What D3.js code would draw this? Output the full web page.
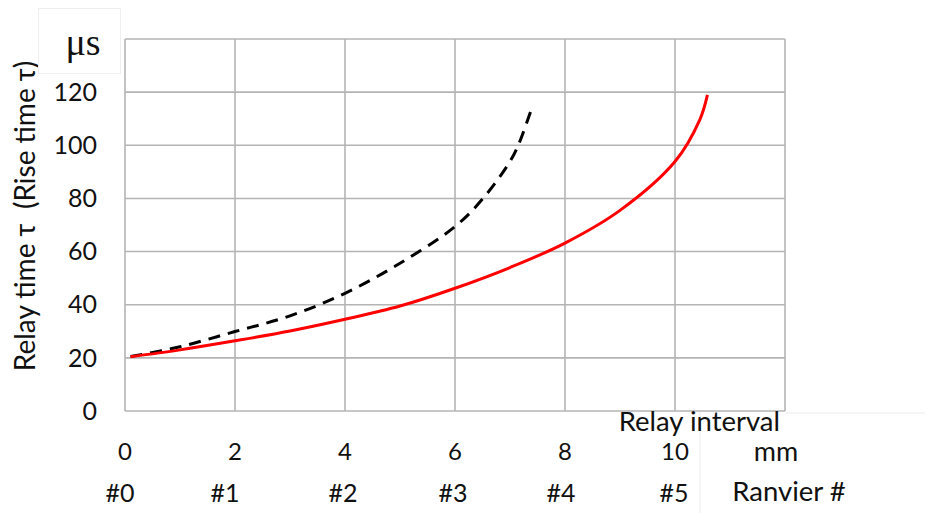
<!DOCTYPE html>
<html>
<head>
<meta charset="utf-8">
<script src="https://cdnjs.cloudflare.com/ajax/libs/d3/7.8.5/d3.min.js"></script>
<style>
  html, body { margin: 0; padding: 0; background: #fff; }
  svg { display: block; }
  .sans { font-family: Lato, "Open Sans", "Liberation Sans", sans-serif; fill: #111; }
  .serif { font-family: "Liberation Serif", "DejaVu Serif", serif; fill: #111; }
</style>
</head>
<body>
<svg id="chart" width="925" height="513"></svg>
<script>
// Relay interval (mm) and rise time (µs) for the two curves
const redX   = [0.1, 1, 2, 3, 4, 5, 6, 7, 8, 9, 10, 10.45, 10.59];
const redY   = [20.4, 23.0, 26.4, 30.1, 34.5, 39.5, 46.2, 54.0, 63.2, 75.5, 93.9, 109.6, 119.0];
const dashX  = [0.1, 1, 2, 3, 4, 5, 6, 6.51, 7.0, 7.15, 7.39];
const dashY  = [20.5, 24.2, 29.9, 35.8, 44.3, 55.6, 69.4, 80.0, 93.9, 100.0, 113.6];

// Axis ticks and labels
const xTicks = [0, 2, 4, 6, 8, 10];
const yTicks = [0, 20, 40, 60, 80, 100, 120];
const ranvierLabels = ["#0", "#1", "#2", "#3", "#4", "#5"];
const ranvierPos = [120, 225, 343, 453, 561, 674];
const xGrid = [0, 2, 4, 6, 8, 10, 12];
const yGrid = [0, 20, 40, 60, 80, 100, 120, 140];

const svg = d3.select("#chart");

const x = d3.scaleLinear().domain([0, 12]).range([125, 785]);
const y = d3.scaleLinear().domain([0, 140]).range([411, 39]);

// Grid
const grid = svg.append("g").attr("stroke", "#b4b4b4").attr("stroke-width", 1.6);
grid.selectAll("line.v").data(xGrid).join("line")
  .attr("class", "v")
  .attr("x1", d => x(d)).attr("x2", d => x(d))
  .attr("y1", y(0)).attr("y2", y(140));
grid.selectAll("line.h").data(yGrid).join("line")
  .attr("class", "h")
  .attr("x1", x(0)).attr("x2", x(12))
  .attr("y1", d => y(d)).attr("y2", d => y(d));

// Faint panel edges near the bottom-right labels
svg.append("line").attr("x1", 700).attr("x2", 700).attr("y1", 412).attr("y2", 513)
  .attr("stroke", "#ececec").attr("stroke-width", 1);
svg.append("line").attr("x1", 785).attr("x2", 925).attr("y1", 413).attr("y2", 413)
  .attr("stroke", "#ececec").attr("stroke-width", 1);

// Curves
const line = d3.line().curve(d3.curveCatmullRom.alpha(0.5))
  .x(d => x(d[0])).y(d => y(d[1]));

svg.append("path")
  .datum(dashX.map((v, i) => [v, dashY[i]]))
  .attr("d", line)
  .attr("fill", "none").attr("stroke", "#000").attr("stroke-width", 3)
  .attr("stroke-dasharray", "12,8");

svg.append("path")
  .datum(redX.map((v, i) => [v, redY[i]]))
  .attr("d", line)
  .attr("fill", "none").attr("stroke", "#ff0000").attr("stroke-width", 3);

// Y tick labels
svg.append("g").selectAll("text").data(yTicks).join("text")
  .attr("class", "sans")
  .attr("x", 97).attr("y", d => y(d))
  .attr("dy", "0.35em").attr("text-anchor", "end")
  .attr("font-size", 25).text(d => d);

// X tick labels
svg.append("g").selectAll("text").data(xTicks).join("text")
  .attr("class", "sans")
  .attr("x", d => x(d)).attr("y", 452)
  .attr("dy", "0.35em").attr("text-anchor", "middle")
  .attr("font-size", 24).text(d => d);

// Ranvier node labels
svg.append("g").selectAll("text").data(ranvierLabels).join("text")
  .attr("class", "sans")
  .attr("x", (d, i) => ranvierPos[i]).attr("y", 493)
  .attr("dy", "0.35em").attr("text-anchor", "middle")
  .attr("font-size", 25).text(d => d);

// Axis titles
svg.append("text").attr("class", "sans").attr("x", 780).attr("y", 431)
  .attr("text-anchor", "end").attr("font-size", 27.5).text("Relay interval");
svg.append("text").attr("class", "sans").attr("x", 776).attr("y", 452).attr("dy", "0.35em")
  .attr("text-anchor", "middle").attr("font-size", 27).text("mm");
svg.append("text").attr("class", "sans").attr("x", 789).attr("y", 491).attr("dy", "0.35em")
  .attr("text-anchor", "middle").attr("font-size", 27.5).text("Ranvier #");

svg.append("text").attr("class", "sans")
  .attr("transform", "translate(25,216) rotate(-90)")
  .attr("dy", "0.35em").attr("text-anchor", "middle")
  .attr("font-size", 28).attr("xml:space", "preserve")
  .style("white-space", "pre")
  .text("Relay time τ  (Rise time τ)");

// Unit box
svg.append("rect").attr("x", 38.5).attr("y", 8.5).attr("width", 82).attr("height", 65)
  .attr("fill", "#fff").attr("stroke", "#eeeeee").attr("stroke-width", 1);
svg.append("text").attr("class", "serif").attr("x", 83).attr("y", 44).attr("dy", "0.3em")
  .attr("text-anchor", "middle").attr("font-size", 38)
  .text("μs");
</script>
</body>
</html>
